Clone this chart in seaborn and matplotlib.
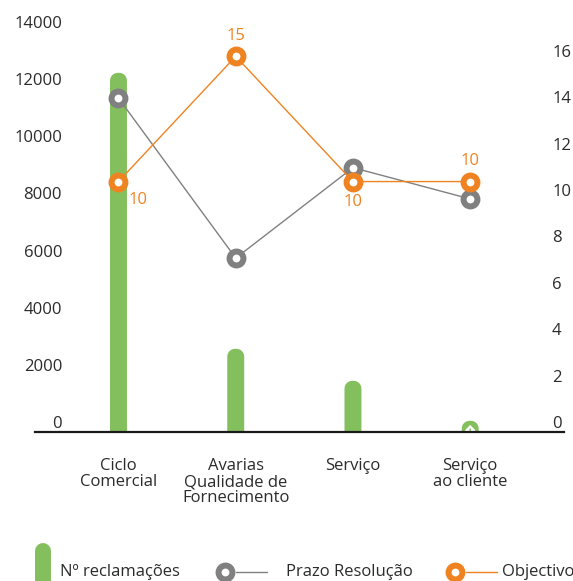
import matplotlib
matplotlib.use("Agg")
import matplotlib.pyplot as plt
from matplotlib.lines import Line2D
import numpy as np
import seaborn as sns

# dados
categorias = ["Ciclo\nComercial", "Avarias\nQualidade de\nFornecimento", "Serviço", "Serviço\nao cliente"]
reclamacoes = [12300, 2640, 1520, 120]
prazo_resolucao = [14.4, 7.5, 11.4, 10.05]
objectivo = [10.8, 16.2, 10.8, 10.8]
objectivo_labels = ["10", "15", "10", "10"]
ticks_esq = [0, 2000, 4000, 6000, 8000, 10000, 12000, 14000]
ticks_dir = [0, 2, 4, 6, 8, 10, 12, 14, 16]

VERDE = "#84bf5e"
CINZA = "#808080"
LARANJA = "#f08321"
TEXTO = "#2b2b2b"

sns.set_style("white")
plt.rcParams["font.family"] = ["Open Sans", "DejaVu Sans"]
plt.rcParams["font.size"] = 12

W, H = 573, 581
fig = plt.figure(figsize=(W / 100, H / 100), dpi=100)
ax1 = fig.add_axes([35 / W, 1 - 432 / H, (564 - 35) / W, 400 / H])
ax2 = ax1.twinx()

pos = np.arange(len(categorias))

# barras finas com topo arredondado
sns.barplot(x=pos, y=reclamacoes, color=VERDE, width=0.012, linewidth=11.2,
            edgecolor=VERDE, saturation=1, ax=ax1)
for p in ax1.patches:
    p.set_joinstyle("round")
    p.set_snap(False)

# linhas no eixo secundario
for serie, cor in [(prazo_resolucao, CINZA), (objectivo, LARANJA)]:
    sns.lineplot(x=pos, y=serie, ax=ax2, color=cor, lw=1, marker="o",
                 markersize=10, markeredgewidth=4.3, markerfacecolor="white",
                 markeredgecolor=cor)

offsets = [(14, -13), (0, 15), (0, -15), (0, 15)]
for i, (v, lbl) in enumerate(zip(objectivo, objectivo_labels)):
    ax2.annotate(lbl, (i, v), xytext=offsets[i], textcoords="offset points",
                 ha="center", va="center", color=LARANJA, fontsize=12)

ax1.set_xlim(-0.712, 3.80)
ax1.set_ylim(0, 14000)
ax2.set_ylim(0, 17.25)

ax1.set_yticks(ticks_esq)
ax1.set_yticklabels([str(t) for t in ticks_esq])
ax2.set_yticks(ticks_dir)
ax2.set_yticklabels([str(t) for t in ticks_dir])
ax1.set_xticks(pos)
ax1.set_xticklabels(categorias, linespacing=1.0)

ax1.tick_params(axis="y", length=0, pad=-19.5, colors=TEXTO, labelsize=12)
ax2.tick_params(axis="y", length=0, pad=-8.6, colors=TEXTO, labelsize=12)
ax1.tick_params(axis="x", length=0, pad=19, colors=TEXTO, labelsize=12)
for t in ax1.get_yticklabels() + ax2.get_yticklabels():
    t.set_va("bottom")

for ax in (ax1, ax2):
    for s in ["top", "left", "right"]:
        ax.spines[s].set_visible(False)
    ax.set_xlabel("")
    ax.set_ylabel("")
ax2.spines["bottom"].set_visible(False)
ax1.spines["bottom"].set_color("#1a1a1a")
ax1.spines["bottom"].set_linewidth(1.6)
ax1.spines["bottom"].set_zorder(5)

# legenda
def fx(x):
    return x / W

def fy(y):
    return 1 - y / H

fig.add_artist(Line2D([fx(43), fx(43)], [fy(551), fy(600)], color=VERDE, lw=11.5,
                      solid_capstyle="round", transform=fig.transFigure))
fig.text(fx(60), fy(572), "Nº reclamações", color=TEXTO, va="center", ha="left", fontsize=12)

for mx, cor, txt, dx in [(225, CINZA, "Prazo Resolução", 61), (455, LARANJA, "Objectivo", 47)]:
    fig.add_artist(Line2D([fx(mx + 11), fx(mx + 42)], [fy(572), fy(572)], color=cor, lw=1,
                          transform=fig.transFigure))
    fig.add_artist(Line2D([fx(mx)], [fy(572)], marker="o", markersize=10, markeredgewidth=4.3,
                          markerfacecolor="white", markeredgecolor=cor, linestyle="none",
                          transform=fig.transFigure))
    fig.text(fx(mx + dx), fy(572), txt, color=TEXTO, va="center", ha="left", fontsize=12)

fig.savefig("out.png", dpi=100)
